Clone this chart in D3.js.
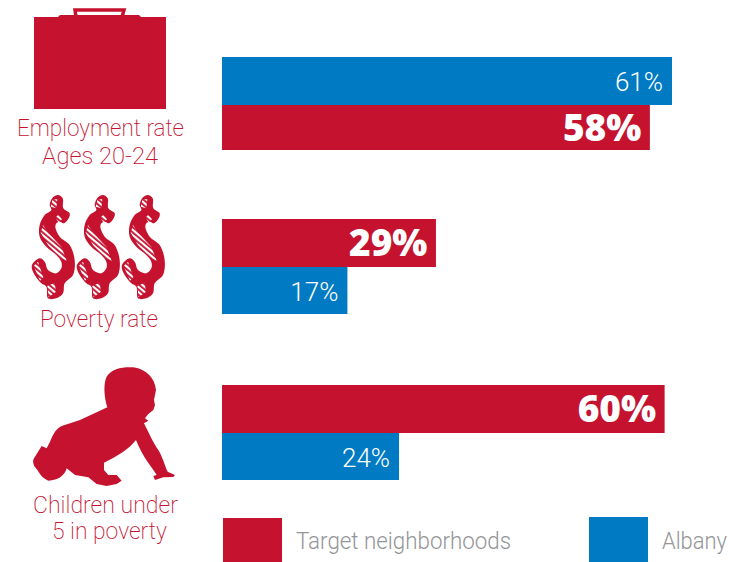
<!DOCTYPE html>
<html><head><meta charset="utf-8">
<script src="https://cdn.jsdelivr.net/npm/d3@7"></script>
<style>html,body{margin:0;padding:0;background:#fff}svg{display:block}</style>
</head><body><svg id="c" width="730" height="562"></svg>
<script>
const groups = ["Employment rate", "Poverty rate", "Children under 5"];
const seriesNames = ["Target neighborhoods", "Albany"];
const targetValues = [58, 29, 60];
const albanyValues = [61, 17, 24];
const labelLines = [["Employment rate", "Ages 20-24"], ["Poverty rate"], ["Children under", "5 in poverty"]];
const RED = "#c4122f", BLUE = "#007ac2", GREY = "#939598";
const LIGHT = "Roboto, sans-serif", HEAVY = "'Open Sans', sans-serif";

const svg = d3.select("#c");
const x = d3.scaleLinear().domain([0, 61]).range([222, 672]);

const rows = [
  {top: 57, mid: 105, bot: 150, order: ["Albany", "Target neighborhoods"]},
  {top: 219, mid: 267, bot: 314, order: ["Target neighborhoods", "Albany"]},
  {top: 385, mid: 433, bot: 480, order: ["Target neighborhoods", "Albany"]}
];
groups.forEach((g, i) => {
  const r = rows[i];
  r.order.forEach((s, k) => {
    const isT = s === seriesNames[0];
    const v = isT ? targetValues[i] : albanyValues[i];
    const y0 = k === 0 ? r.top : r.mid, y1 = k === 0 ? r.mid : r.bot;
    svg.append("rect").attr("x", x(0)).attr("y", y0).attr("width", x(v) - x(0)).attr("height", y1 - y0)
      .attr("fill", isT ? RED : BLUE);
    svg.append("text").attr("x", x(v) - (isT ? 8.5 : 9)).attr("y", (y0 + y1) / 2 + (isT ? 13 : 10))
      .attr("text-anchor", "end").attr("fill", "#fff").attr("font-family", isT ? HEAVY : LIGHT)
      .attr("font-weight", isT ? 800 : 300).attr("font-size", isT ? 37 : 26).text(v + "%");
  });
});

const labelY = [[136, 164], [327], [513, 539]];
const labelX = [[100.5, 100], [99], [105.5, 109.5]];
const labelW = [[167, 116], [118], [145, 115]];
labelLines.forEach((lines, i) => lines.forEach((t, j) => {
  svg.append("text").attr("x", labelX[i][j]).attr("y", labelY[i][j]).attr("text-anchor", "middle")
    .attr("textLength", labelW[i][j]).attr("lengthAdjust", "spacingAndGlyphs")
    .attr("fill", RED).attr("font-family", LIGHT).attr("font-weight", 200).attr("font-size", 23).text(t);
}));

// legend
const legend = [{x: 223, y: 518, w: 59, h: 44, c: RED, tx: 296, tw: 215, n: seriesNames[0]},
                {x: 589, y: 517, w: 59, h: 45, c: BLUE, tx: 662, tw: 65, n: seriesNames[1]}];
legend.forEach(l => {
  svg.append("rect").attr("x", l.x).attr("y", l.y).attr("width", l.w).attr("height", l.h).attr("fill", l.c);
  svg.append("text").attr("x", l.tx).attr("y", 549).attr("fill", GREY).attr("font-family", LIGHT)
    .attr("textLength", l.tw).attr("lengthAdjust", "spacingAndGlyphs")
    .attr("font-weight", 300).attr("font-size", 23).text(l.n);
});

// briefcase icon
const brief = svg.append("g").attr("fill", RED);
brief.append("rect").attr("x", 34).attr("y", 17).attr("width", 132).attr("height", 92);
brief.append("path").attr("d", "M58 17 L60 15 L139 15 L141 17 Z");
brief.append("path").attr("fill", "none").attr("stroke", RED).attr("stroke-width", 3.5).attr("stroke-linecap", "round")
  .attr("d", "M76 17 L75 10 L124 10 L122 17");

// dollar icons
const outline = [[75,22],[90,15],[104,25],[106,55],[125,70],[122,85],[108,100],[95,95],[85,100],[82,112],[95,140],[125,165],[140,210],[135,255],[110,280],[105,310],[85,325],[60,325],[55,290],[40,280],[15,245],[12,225],[35,205],[50,215],[60,240],[85,250],[100,235],[100,215],[85,195],[55,170],[35,140],[35,105],[50,75],[70,60],[65,45]];
const patches = [
  [[68,50],[74,28],[88,28],[85,55]],
  [[82,82],[92,74],[102,88],[92,98]],
  [[38,128],[45,105],[62,130],[100,170],[116,212],[98,205],[60,165]],
  [[17,228],[30,215],[46,262],[36,272]],
  [[58,288],[80,278],[84,305],[62,322]]
];
const line = d3.line().curve(d3.curveCatmullRomClosed.alpha(0.5));
const poly = d3.line().curve(d3.curveLinearClosed);
const pat = svg.append("defs").append("pattern").attr("id", "hatch").attr("patternUnits", "userSpaceOnUse")
  .attr("width", 12).attr("height", 12).attr("patternTransform", "rotate(40)");
pat.append("rect").attr("width", 12).attr("height", 6.5).attr("fill", "#fff");
[0, 45, 90].forEach(dx => {
  const g = svg.append("g").attr("transform", `translate(${28 + dx},190) scale(0.3333)`);
  g.append("path").attr("fill", RED).attr("d", line(outline));
  patches.forEach(p => g.append("path").attr("fill", "url(#hatch)").attr("d", poly(p)));
});

// baby icon
svg.append("path").attr("fill", RED).attr("transform", "translate(0,350) scale(0.3333)")
  .attr("d", "M322 172 C312 140 310 100 320 80 C335 55 370 50 400 52 C440 58 465 85 468 120 L462 150 L465 165 L460 180 L445 192 L435 205 L445 212 L432 220 C445 245 460 280 475 300 C490 325 495 350 503 365 L525 375 L520 381 L490 382 L465 390 L460 378 L470 375 C455 350 430 325 408 270 C390 295 350 320 312 338 L312 360 L325 375 L350 375 L365 392 L350 402 L320 408 L290 402 L265 382 L225 375 L200 355 C195 375 175 392 145 392 C125 385 120 370 108 355 C98 345 98 330 102 325 L125 288 L140 295 L150 275 C160 250 170 235 185 228 L240 210 Z");
</script></body></html>
